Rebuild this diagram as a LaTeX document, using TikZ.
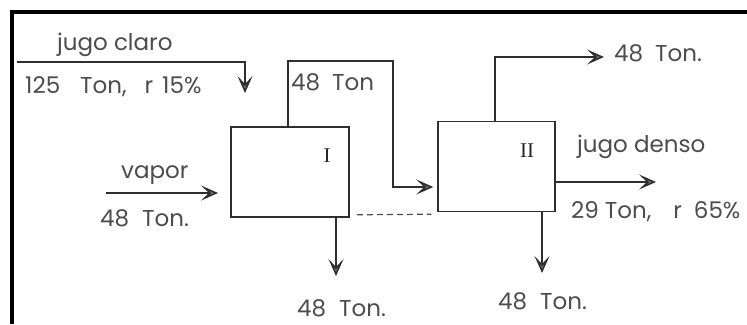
\documentclass[tikz,border=0pt]{standalone}
\usepackage{fontspec}
\setmainfont{Poppins}
\newfontfamily\romfont{Liberation Serif}
\usetikzlibrary{arrows.meta}
\begin{document}
\begin{tikzpicture}[x=1pt,y=-1pt,
  lbl/.style={font=\fontsize{23}{25}\selectfont, text=black!70, inner sep=0pt},
  roman/.style={font=\romfont\fontsize{21}{23}\selectfont, text=black!85, inner sep=0pt},
  unit/.style={draw=black!82, line width=1.5pt, minimum width=118pt, minimum height=90pt, inner sep=0pt},
  flow/.style={draw=black!82, line width=1.5pt, -{Stealth[length=17pt,width=15pt,inset=8pt,fill=black!55]}},
  frame/.style={draw=black, line width=4pt}]
\useasboundingbox (0,0) rectangle (747,324);
\fill[white] (0,0) rectangle (747,324);
\draw[frame] (10,12) -- (747,12);
\draw[frame] (12,10) -- (12,324);
% units
\node[unit] (b1) at (290,172) {};
\node[unit, minimum width=117pt] (b2) at (496.5,166.5) {};
\node[roman] (r1) at (327,156) {I};
\node[roman] (r2) at (527,151) {II};
% free ends
\coordinate (jcs) at (17,62);
\coordinate (jce) at (245,93);
\coordinate (vps) at (106,193);
\coordinate (vpe) at (218,193);
\coordinate (o1b) at (336,276);
\coordinate (o2t) at (604,57);
\coordinate (o2r) at (656,182);
\coordinate (o2b) at (542,273);
% connectors
\draw[flow] (jcs) -| (jce);
\draw[flow] (vps) -- (vpe);
\draw[flow, shorten >=4pt] ([xshift=-2pt]b1.north) |- (393,61) -- (393,187) -- ([yshift=-20.5pt]b2.west);
\draw[flow] ([xshift=-1.5pt]b2.north) |- (o2t);
\draw[flow] ([yshift=-15.5pt]b2.east) -- (o2r);
\draw[flow] ([xshift=46pt]b1.south) -- (o1b);
\draw[flow] ([xshift=45.5pt]b2.south) -- (o2b);
\draw[draw=black!70, line width=1.2pt, dash pattern=on 6pt off 4pt] ([xshift=7pt,yshift=3pt]b1.south east) -- ([xshift=-6pt,yshift=-2pt]b2.south west);
% labels
\node[lbl, anchor=west] (t1) at (57,45) {jugo claro};
\node[lbl, anchor=west] (t2) at (25,87) {125\hspace{20pt}Ton,\hspace{18pt}r\hspace{9pt}15\%};
\node[lbl, anchor=west] (t3) at (291,82) {48\hspace{12pt}Ton};
\node[lbl, anchor=west] (t4) at (121,175) {vapor};
\node[lbl, anchor=west] (t5) at (100,218) {48\hspace{13pt}Ton.};
\node[lbl, anchor=west] (t6) at (297,308) {48\hspace{13pt}Ton.};
\node[lbl, anchor=west] (t7) at (498,301) {48\hspace{13pt}Ton.};
\node[lbl, anchor=west] (t8) at (577,147) {jugo denso};
\node[lbl, anchor=west] (t9) at (571,212) {29\hspace{6pt}Ton,\hspace{22pt}r\hspace{12pt}65\%};
\node[lbl, anchor=west] (t10) at (614,53) {48\hspace{12pt}Ton.};
\end{tikzpicture}
\end{document}
